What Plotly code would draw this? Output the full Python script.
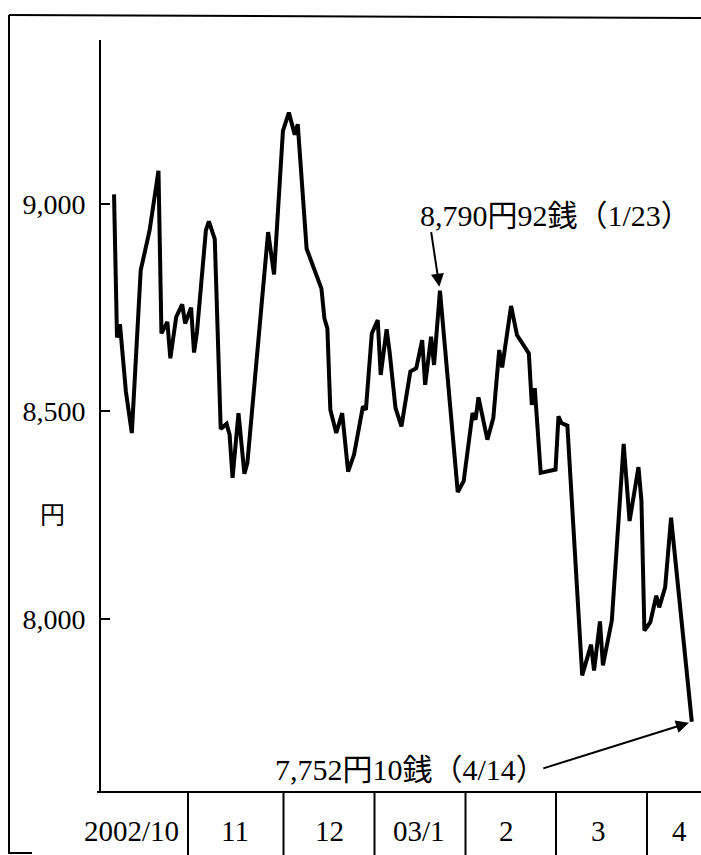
import plotly.graph_objects as go

# Nikkei average, day offset from 2002-10-01 and closing value (yen)
days = [0, 1, 2, 4, 6, 9, 12, 15, 16, 18, 19, 21, 23, 24, 26, 27, 28, 31, 32, 34,
        36, 38, 39, 40, 42, 44, 45, 52, 54, 57, 59, 61, 62, 65, 70, 71, 72, 73, 75, 77,
        79, 81, 84, 85, 87, 89, 90, 92, 93, 95, 97, 100, 102, 104, 105, 107, 108, 110,
        116, 118, 121, 122, 123, 126, 128, 130, 131, 134, 136, 140, 141, 142, 144, 149,
        150, 151, 153, 158, 161, 162, 164, 165, 168, 172, 174, 177, 178, 179, 181, 183,
        184, 186, 188, 195]
values = [9023, 8678, 8710, 8548, 8448, 8840, 8936, 9080, 8688, 8716, 8628, 8728, 8758,
          8712, 8750, 8642, 8692, 8936, 8958, 8915, 8458, 8470, 8444, 8340, 8496, 8350,
          8376, 8932, 8830, 9176, 9220, 9167, 9192, 8892, 8796, 8724, 8700, 8504, 8448,
          8496, 8355, 8396, 8512, 8504, 8688, 8720, 8588, 8698, 8644, 8508, 8464, 8596,
          8604, 8672, 8564, 8680, 8612, 8791, 8306, 8332, 8496, 8480, 8534, 8432, 8484,
          8648, 8606, 8754, 8684, 8640, 8516, 8556, 8352, 8360, 8488, 8472, 8466, 7864,
          7938, 7876, 7994, 7888, 7996, 8422, 8236, 8366, 8284, 7972, 7992, 8056, 8028,
          8076, 8244, 7752.1]

y_ticks = [8000, 8500, 9000]
y_tick_labels = ["8,000", "8,500", "9,000"]
month_labels = ["2002/10", "11", "12", "03/1", "2", "3", "4"]
high_label = "8,790円92銭（1/23）"
low_label = "7,752円10銭（4/14）"
high_idx = 57
low_idx = len(days) - 1

W, H = 701, 855
L, R, T, B = 101, 0, 40, 63
PW = W - L - R
PH = H - T - B


def xp(px):
    return (px - L) / PW


def yp(py):
    return (H - B - py) / PH


FONT = "Liberation Serif, 'Noto Sans CJK JP', serif"

fig = go.Figure()
fig.add_trace(go.Scatter(x=days, y=values, mode="lines",
                         line=dict(color="black", width=4), hoverinfo="skip"))

shapes = []
# month separator lines in the bottom table
for px in [188, 283.5, 374.5, 465.5, 556, 647]:
    shapes.append(dict(type="line", xref="paper", yref="paper",
                       x0=xp(px), x1=xp(px), y0=yp(H - B), y1=yp(H),
                       line=dict(color="black", width=2)))
# outer frame (left and top)
shapes.append(dict(type="line", xref="paper", yref="paper", x0=xp(9), x1=xp(9),
                   y0=yp(15), y1=yp(854), line=dict(color="black", width=2)))
shapes.append(dict(type="line", xref="paper", yref="paper", x0=xp(9), x1=xp(701),
                   y0=yp(15), y1=yp(18), line=dict(color="black", width=2)))
shapes.append(dict(type="line", xref="paper", yref="paper", x0=xp(9), x1=xp(32),
                   y0=yp(853), y1=yp(853), line=dict(color="black", width=2)))
# bottom axis line
shapes.append(dict(type="line", xref="paper", yref="paper", x0=xp(97), x1=xp(701),
                   y0=yp(H - B), y1=yp(H - B), line=dict(color="black", width=2)))

annotations = []
for lab, cx in zip(month_labels, [131, 235, 329.5, 419, 506.5, 598.5, 679]):
    annotations.append(dict(text=lab, xref="paper", yref="paper", x=xp(cx), y=yp(831),
                            showarrow=False, xanchor="center", yanchor="middle",
                            font=dict(family=FONT, size=29, color="black")))
annotations.append(dict(text="円", xref="paper", yref="paper", x=xp(52), y=yp(515),
                        showarrow=False, xanchor="center", yanchor="middle",
                        font=dict(family=FONT, size=25, color="black")))
annotations.append(dict(text=high_label, xref="paper", yref="paper", x=xp(555), y=yp(215),
                        showarrow=False, xanchor="center", yanchor="middle",
                        font=dict(family=FONT, size=30, color="black")))
annotations.append(dict(text=low_label, xref="paper", yref="paper", x=xp(410), y=yp(769),
                        showarrow=False, xanchor="center", yanchor="middle",
                        font=dict(family=FONT, size=30, color="black")))
annotations.append(dict(text="", x=days[high_idx], y=values[high_idx], xref="x", yref="y",
                        showarrow=True, ax=-9, ay=-60, arrowhead=2, arrowsize=1.3,
                        arrowwidth=2, arrowcolor="black", standoff=4))
annotations.append(dict(text="", x=days[low_idx], y=values[low_idx], xref="x", yref="y",
                        showarrow=True, ax=-150, ay=47, arrowhead=2, arrowsize=1.3,
                        arrowwidth=2, arrowcolor="black", standoff=3))

fig.update_layout(
    width=W, height=H,
    margin=dict(l=L, r=R, t=T, b=B),
    paper_bgcolor="white", plot_bgcolor="white",
    showlegend=False,
    shapes=shapes, annotations=annotations,
    xaxis=dict(range=[-4.4, 198.1], showgrid=False, zeroline=False, showticklabels=False,
               ticks="", showline=False),
    yaxis=dict(range=[7583, 9395], showgrid=False, zeroline=False,
               tickvals=y_ticks, ticktext=y_tick_labels, ticks="inside", ticklen=9,
               tickwidth=2, tickcolor="black", showline=True, linecolor="black",
               linewidth=2, ticklabelstandoff=8,
               tickfont=dict(family=FONT, size=28, color="black")),
)

fig.write_html("out.html", config={"displayModeBar": False},
               post_script="document.body.style.margin='0';document.body.style.overflow='hidden';")
